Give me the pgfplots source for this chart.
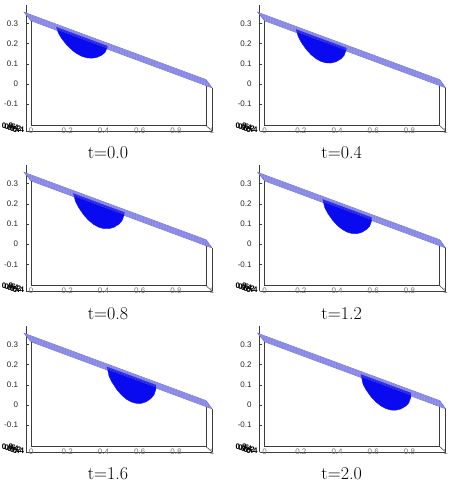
\documentclass[border=0pt]{standalone}
\usepackage{pgfplots}
\pgfplotsset{compat=1.18}
\usepackage{fontspec}
\newfontfamily\ticksf{Liberation Sans}
\definecolor{bandfill}{RGB}{168,168,236}
\definecolor{bandline}{RGB}{100,100,222}
\definecolor{blobblue}{RGB}{10,10,240}
\definecolor{framegray}{RGB}{60,60,60}
\pgfplotsset{
 panel/.style={
  scale only axis, width=186.1pt, height=125.8pt,
  xmin=-0.028, xmax=1.0, ymin=-0.233, ymax=0.39,
  axis lines=left, axis line style={-, framegray, line width=0.5pt},
  /pgf/number format/assume math mode=true,
  xtick={0,0.2,0.4,0.6,0.8,1}, xticklabels={0,0.2,0.4,0.6,0.8,1},
  ytick={-0.1,0,0.1,0.2,0.3}, yticklabels={-0.1,0,0.1,0.2,0.3},
  tick align=inside, major tick length=2.5pt, tick style={framegray, line width=0.4pt},
  x tick style={draw=none},
  xticklabel style={anchor=center, font=\ticksf\fontsize{8}{9}\selectfont, text=black!55},
  yticklabel style={font=\ticksf\fontsize{8}{9}\selectfont, text=black!85, xshift=-4.5pt},
  clip=false,
 }
}
\newcommand\panel[4]{%
\begin{axis}[panel, at={(#1,#2)}, anchor=south west]
 \addplot[fill=bandfill, draw=bandline, line width=0.4pt] coordinates {(-0.039,0.356) (0.967,0.022) (1.0,-0.019) (0.0,0.313)} -- cycle;
 \addplot[fill=blobblue, draw=blobblue, line width=0.3pt] coordinates {#4} -- cycle;
 \addplot[bandline, line width=0.35pt, opacity=0.8] coordinates {(-0.0325,0.3488) (0.9725,0.0152)};
 \addplot[bandline, line width=0.35pt, opacity=0.8] coordinates {(-0.026,0.3417) (0.978,0.0083)};
 \addplot[bandline, line width=0.35pt, opacity=0.8] coordinates {(-0.0195,0.3345) (0.9835,0.0015)};
 \addplot[bandline, line width=0.35pt, opacity=0.8] coordinates {(-0.013,0.3273) (0.989,-0.0053)};
 \addplot[bandline, line width=0.35pt, opacity=0.8] coordinates {(-0.0065,0.3202) (0.9945,-0.0122)};
 \addplot[framegray, line width=0.5pt] coordinates {(0,0.313) (0,-0.206) (0.967,-0.206) (0.967,-0.008)};
 \addplot[framegray, line width=0.5pt] coordinates {(1.0,-0.019) (1.0,-0.233)};
 \addplot[framegray, line width=0.5pt] coordinates {(0.967,-0.206) (1.0,-0.233)};
 \node[font=\ticksf\bfseries\fontsize{8}{9}\selectfont, inner sep=0pt] at (axis cs:-0.13,-0.205) {0.8};
 \node[font=\ticksf\bfseries\fontsize{8}{9}\selectfont, inner sep=0pt] at (axis cs:-0.115,-0.211) {0.6};
 \node[font=\ticksf\bfseries\fontsize{8}{9}\selectfont, inner sep=0pt] at (axis cs:-0.10,-0.217) {0.4};
 \node[font=\ticksf\bfseries\fontsize{8}{9}\selectfont, inner sep=0pt] at (axis cs:-0.085,-0.222) {0.2};
 \node[font=\ticksf\bfseries\fontsize{8}{9}\selectfont, inner sep=0pt] at (axis cs:-0.07,-0.227) {0.4};
 \node[font=\fontsize{18}{20}\selectfont] at (axis cs:0.425,-0.342) {#3};
\end{axis}}
\begin{document}
\begin{tikzpicture}
\path[use as bounding box] (0,0) rectangle (456pt,484pt);
\panel{26pt}{352.9pt}{t=0.0}{(0.14,0.2815) (0.1512,0.2520) (0.168,0.2264) (0.196,0.1942) (0.224,0.1693) (0.252,0.1506) (0.28,0.1374) (0.308,0.1298) (0.336,0.1279) (0.364,0.1320) (0.392,0.1436) (0.4088,0.1566) (0.42,0.1796) (0.42,0.1886)}
\panel{259.6pt}{352.9pt}{t=0.4}{(0.174,0.2702) (0.1850,0.2354) (0.2016,0.2070) (0.2292,0.1717) (0.2568,0.1449) (0.2844,0.1250) (0.3120,0.1116) (0.3396,0.1045) (0.3672,0.1040) (0.3948,0.1104) (0.4224,0.1253) (0.4390,0.1415) (0.45,0.1685) (0.45,0.1786)}
\panel{26pt}{192.8pt}{t=0.8}{(0.234,0.2503) (0.2452,0.2118) (0.262,0.1823) (0.290,0.1455) (0.318,0.1177) (0.346,0.0974) (0.374,0.0836) (0.402,0.0767) (0.430,0.0763) (0.458,0.0833) (0.486,0.0994) (0.5028,0.1165) (0.514,0.1448) (0.514,0.1573)}
\panel{259.6pt}{192.8pt}{t=1.2}{(0.321,0.2214) (0.3318,0.1814) (0.348,0.1533) (0.375,0.1185) (0.402,0.0920) (0.429,0.0725) (0.456,0.0593) (0.483,0.0525) (0.510,0.0520) (0.537,0.0585) (0.564,0.0734) (0.5802,0.0895) (0.591,0.1163) (0.591,0.1318)}
\panel{26pt}{31.9pt}{t=1.6}{(0.42,0.1886) (0.4308,0.1425) (0.447,0.1128) (0.474,0.0760) (0.501,0.0483) (0.528,0.0280) (0.555,0.0147) (0.582,0.0081) (0.609,0.0084) (0.636,0.0161) (0.663,0.0329) (0.6792,0.0506) (0.69,0.0797) (0.69,0.0989)}
\panel{259.6pt}{31.9pt}{t=2.0}{(0.532,0.1514) (0.543,0.1039) (0.5595,0.0761) (0.587,0.0415) (0.6145,0.0151) (0.642,-0.0044) (0.6695,-0.0177) (0.697,-0.0248) (0.7245,-0.0256) (0.752,-0.0195) (0.7795,-0.0053) (0.796,0.0103) (0.807,0.0364) (0.807,0.0601)}
\end{tikzpicture}
\end{document}
